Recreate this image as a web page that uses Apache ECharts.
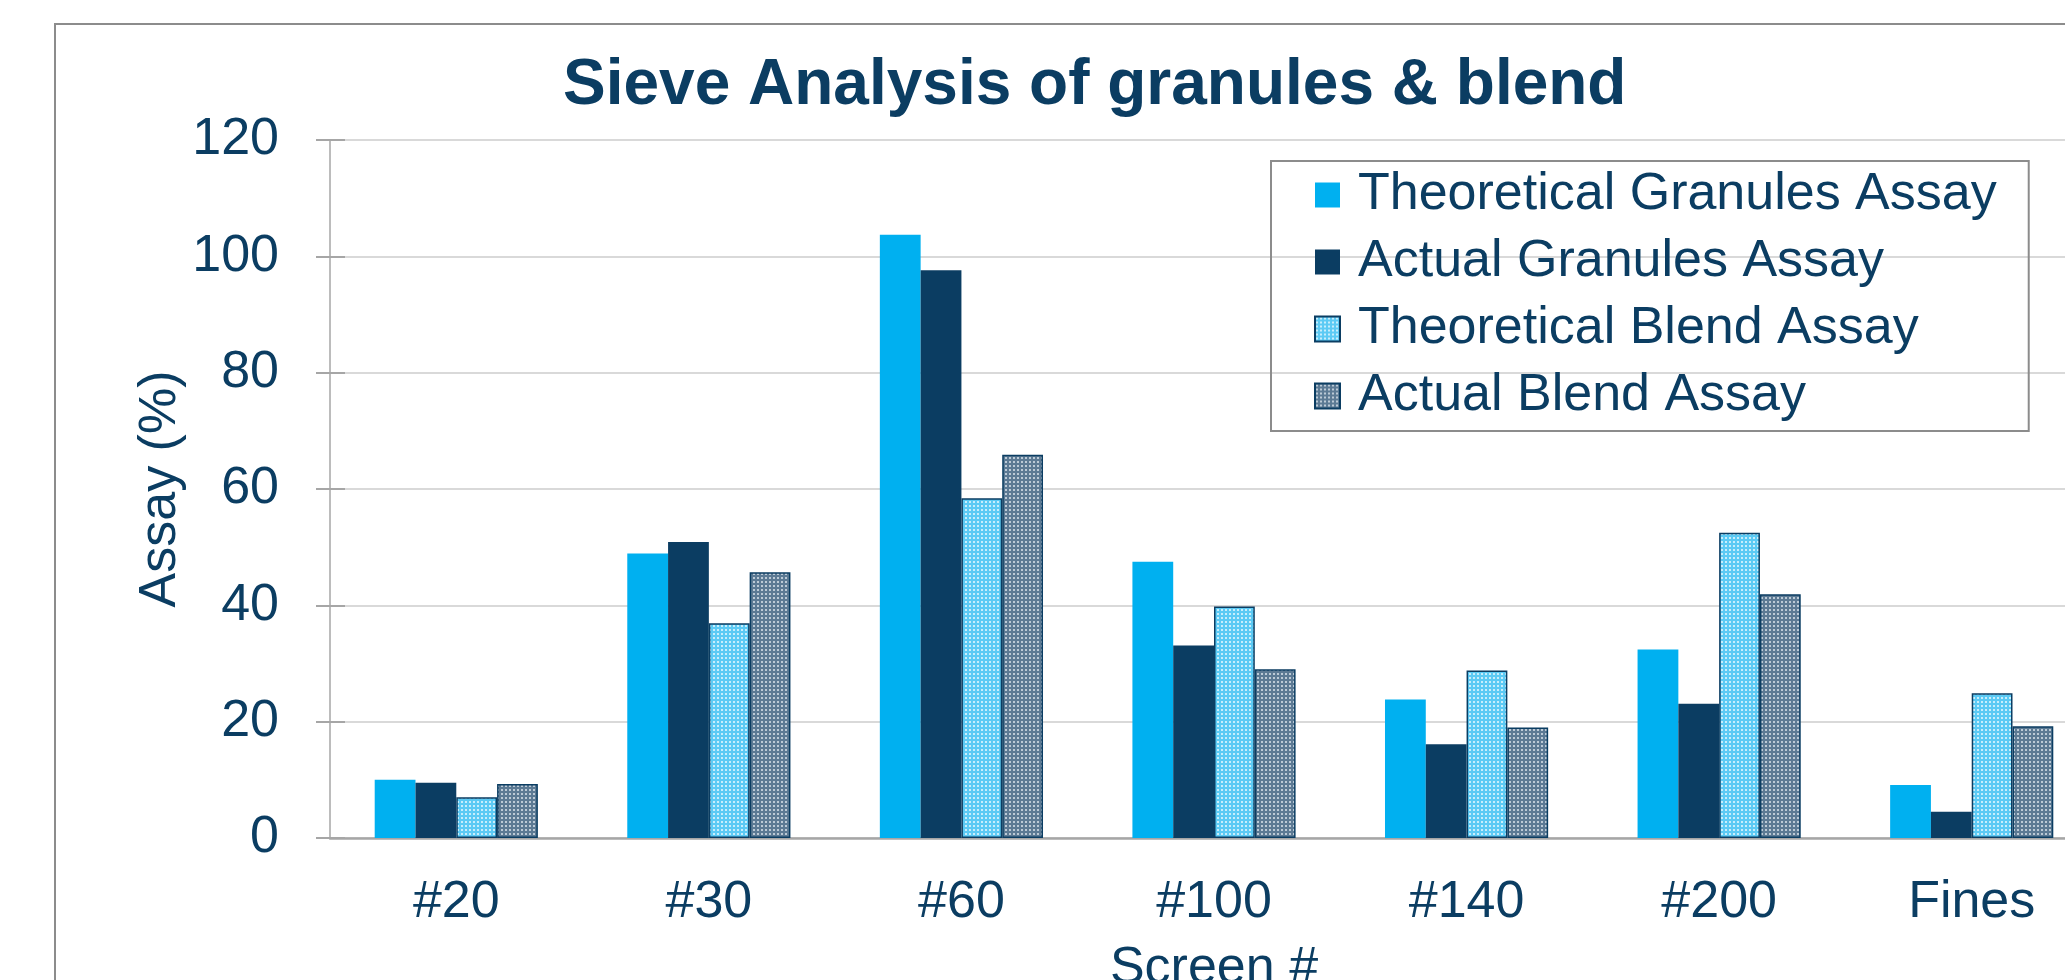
<!DOCTYPE html>
<html>
<head>
<meta charset="utf-8">
<title>Sieve Analysis</title>
<script src="https://cdn.jsdelivr.net/npm/echarts@6/dist/echarts.min.js"></script>
<style>
html, body { margin: 0; padding: 0; background: #fff; }
#main { width: 2065px; height: 980px; }
</style>
</head>
<body>
<div id="main"></div>
<script>
// 数据
var screens = ['#20', '#30', '#60', '#100', '#140', '#200', 'Fines'];
var theoGranules = [10.0, 48.9, 103.7, 47.5, 23.8, 32.4, 9.1];
var actualGranules = [9.5, 50.9, 97.6, 33.1, 16.1, 23.1, 4.5];
var theoBlend = [7.0, 36.9, 58.4, 39.8, 28.8, 52.5, 24.9];
var actualBlend = [9.3, 45.7, 65.9, 29.0, 19.0, 41.9, 19.2];
var yTicks = [0, 20, 40, 60, 80, 100, 120];

var navy = '#0b3d62';
var cyan = '#00b0f0';
var font = 'Liberation Sans, Arial, sans-serif';

// dotted fill for the blend series (small light squares on a tinted ground)
function dots(base, light) {
	var c = document.createElement('canvas');
	c.width = 4;
	c.height = 4;
	var ctx = c.getContext('2d');
	ctx.fillStyle = base;
	ctx.fillRect(0, 0, 4, 4);
	ctx.fillStyle = light;
	ctx.fillRect(1, 1, 2, 2);
	return { image: c, repeat: 'repeat' };
}

var myChart = echarts.init(document.getElementById('main'));

function bar(name, data, itemStyle) {
	return {
		name: name,
		type: 'bar',
		data: data,
		barGap: '0%',
		barCategoryGap: '35.4%',
		itemStyle: itemStyle
	};
}

var option = {
	backgroundColor: '#ffffff',
	animation: false,
	title: {
		text: 'Sieve Analysis of granules & blend',
		left: 563,
		top: 54,
		padding: 0,
		textStyle: { color: navy, fontSize: 64, fontWeight: 'bold', fontFamily: font, lineHeight: 64 }
	},
	legend: {
		orient: 'vertical',
		left: 1271,
		top: 161,
		padding: [8, 32, 9, 43],
		icon: 'rect',
		itemWidth: 25,
		itemHeight: 25,
		itemGap: 15,
		borderColor: '#8c8c8c',
		borderWidth: 2,
		textStyle: { color: navy, fontSize: 52, fontFamily: font, lineHeight: 52, padding: [0, 0, 0, 13] },
		data: ['Theoretical Granules Assay', 'Actual Granules Assay', 'Theoretical Blend Assay', 'Actual Blend Assay']
	},
	graphic: [{
		type: 'rect',
		shape: { x: 55, y: 24, width: 2100, height: 1100 },
		style: { fill: 'none', stroke: '#8c8c8c', lineWidth: 2 },
		silent: true,
		z: -10
	}],
	grid: { left: 330, top: 140, width: 1768, height: 698, containLabel: false, outerBoundsMode: 'none' },
	xAxis: {
		type: 'category',
		data: screens,
		name: 'Screen #',
		nameLocation: 'middle',
		nameGap: 105,
		nameMoveOverlap: false,
		nameTextStyle: { color: navy, fontSize: 52, fontFamily: font },
		axisLine: { lineStyle: { color: '#a6a6a6', width: 2.5 } },
		axisTick: { show: false },
		axisLabel: { color: navy, fontSize: 52, fontFamily: font, margin: 39 }
	},
	yAxis: [{
		type: 'value',
		min: yTicks[0],
		max: yTicks[yTicks.length - 1],
		interval: 20,
		name: 'Assay (%)',
		nameLocation: 'middle',
		nameGap: 143,
		nameMoveOverlap: false,
		nameTextStyle: { color: navy, fontSize: 52, fontFamily: font },
		axisLine: { show: true, lineStyle: { color: '#a6a6a6', width: 1.5 } },
		axisTick: { show: true, length: 14, lineStyle: { color: '#a6a6a6', width: 2 } },
		axisLabel: { color: navy, fontSize: 52, fontFamily: font, margin: 51 },
		splitLine: { lineStyle: { color: '#d9d9d9', width: 2 } }
	}, {
		// inner half of the crossing ticks
		type: 'value',
		position: 'left',
		min: yTicks[0],
		max: yTicks[yTicks.length - 1],
		interval: 20,
		axisLine: { show: false },
		axisTick: { show: true, inside: true, length: 15, lineStyle: { color: '#a6a6a6', width: 2 } },
		axisLabel: { show: false },
		splitLine: { show: false }
	}],
	series: [
		bar('Theoretical Granules Assay', theoGranules, { color: cyan }),
		bar('Actual Granules Assay', actualGranules, { color: navy }),
		bar('Theoretical Blend Assay', theoBlend, { color: dots('#5ccaf4', '#c8eefc'), borderColor: navy, borderWidth: 1.5 }),
		bar('Actual Blend Assay', actualBlend, { color: dots('#5c7a94', '#bccad6'), borderColor: navy, borderWidth: 1.5 })
	]
};
myChart.setOption(option);
</script>
</body>
</html>
